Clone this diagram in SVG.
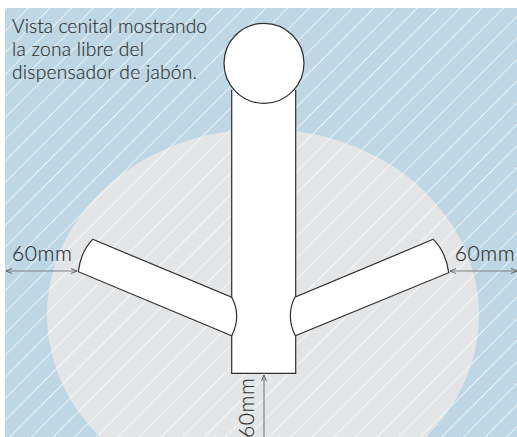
<svg xmlns="http://www.w3.org/2000/svg" width="517" height="437" viewBox="0 0 517 437">
<style>
.t{font-family:"Lato","Noto Sans",sans-serif;font-size:19.2px;font-weight:300;fill:#2e2e2e;stroke:#2e2e2e;stroke-width:.15}
.m{font-size:21px}
.o{fill:#fff;stroke:#2f2f2f;stroke-width:1.2}
.d{fill:none;stroke:#808285;stroke-width:1.2}
</style>
<defs>
<pattern id="hatch" patternUnits="userSpaceOnUse" width="21.6" height="21.6" patternTransform="translate(6.800 8)">
<path d="M-2 23.600L23.600-2" stroke="#fff" stroke-width=".9" fill="none"/>
</pattern>
<marker id="a" viewBox="0 0 6 6" refX="6" refY="3" markerWidth="5" markerHeight="5" orient="auto-start-reverse"><path d="M0 0.500L6 3L0 5.500" fill="none" stroke="#666" stroke-width="1"/></marker>
</defs>
<rect x="5" y="8" width="512" height="429" fill="#bfd7e4"/>
<ellipse cx="263" cy="315" rx="216" ry="186" fill="#e4e5e7"/>
<rect x="5" y="8" width="512" height="429" fill="url(#hatch)"/>
<g id="nodes">
<g id="body"><path class="o" d="M231.700 90V373.300H295.700V90"/></g>
<g id="head"><circle class="o" cx="264" cy="63.300" r="40"/></g>
<g id="arm-left"><path class="o" d="M92.700 239.300L231.700 297.300Q241.700 316 231.700 335.700L78.300 271.700Q80.500 252 92.700 239.300Z"/></g>
<g id="arm-right"><path class="o" d="M433.300 239.300L294.800 297.300Q285.600 316 295.300 335.700L448.700 272.700Q446 252 433.300 239.300Z"/></g>
</g>
<g id="connectors">
<path class="d" d="M6 271H77" marker-start="url(#a)" marker-end="url(#a)"/>
<path class="d" d="M450 271H517" marker-start="url(#a)" marker-end="url(#a)"/>
<path class="d" d="M264 437V375" marker-end="url(#a)"/>
</g>
<g id="labels">
<text class="t" x="12" y="32.700" textLength="195">Vista cenital mostrando</text>
<text class="t" x="12" y="56" textLength="132">la zona libre del</text>
<text class="t" x="12" y="78.700" textLength="185">dispensador de jabón.</text>
<text class="t m" x="12" y="260.700" textLength="60">60mm</text>
<text class="t m" x="454.700" y="260.700" textLength="60">60mm</text>
<text class="t m" transform="translate(253.500 438) rotate(-90)" textLength="60">60mm</text>
</g>
</svg>
